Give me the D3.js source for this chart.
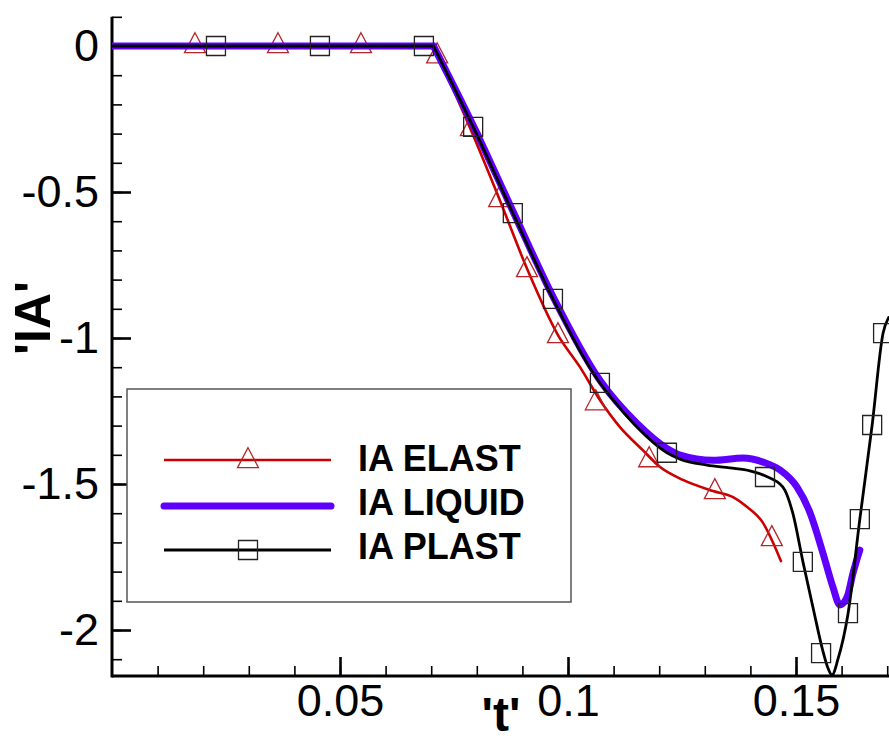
<!DOCTYPE html>
<html><head><meta charset="utf-8">
<script src="https://cdn.jsdelivr.net/npm/d3@7"></script>
<style>
body{margin:0;background:#fff}
svg{display:block}
text{font-family:"Liberation Sans",Arial,Helvetica,sans-serif}
</style>
</head><body>
<svg id="chart" width="889" height="742"></svg>
<script>
// ---------- data ----------
const xMajorTicks = [0.05, 0.1, 0.15];
const xMajorLabels = ["0.05", "0.1", "0.15"];
const yMajorTicks = [0, -0.5, -1, -1.5, -2];
const yMajorLabels = ["0", "-0.5", "-1", "-1.5", "-2"];
const seriesNames = ["IA ELAST", "IA LIQUID", "IA PLAST"];

const elastT = [0, 0.0705, 0.0785, 0.0849, 0.0910, 0.0978, 0.1026, 0.1070, 0.1114, 0.1164, 0.1202, 0.1252, 0.1318, 0.1362, 0.1393, 0.1428, 0.1450, 0.1467];
const elastY = [0, 0, -0.280, -0.522, -0.762, -0.990, -1.099, -1.212, -1.305, -1.384, -1.442, -1.486, -1.524, -1.545, -1.579, -1.634, -1.702, -1.764];
const elastMarkT = [0.0182, 0.0364, 0.0546, 0.0713, 0.0787, 0.0849, 0.0910, 0.0978, 0.1061, 0.1178, 0.1322, 0.1447];
const elastMarkY = [0, 0, 0, -0.035, -0.284, -0.527, -0.767, -0.993, -1.223, -1.418, -1.527, -1.688];

const liquidT = [0, 0.0705, 0.0792, 0.0879, 0.0967, 0.1070, 0.1151, 0.1217, 0.1246, 0.1318, 0.1384, 0.1428, 0.1465, 0.1502, 0.1531, 0.1559, 0.1581, 0.1596, 0.1612, 0.1625, 0.1640];
const liquidY = [0, 0, -0.272, -0.565, -0.858, -1.145, -1.292, -1.378, -1.401, -1.419, -1.411, -1.425, -1.452, -1.510, -1.599, -1.736, -1.853, -1.914, -1.887, -1.805, -1.726];

const plastT = [0, 0.0705, 0.0792, 0.0879, 0.0967, 0.1070, 0.1099, 0.1151, 0.1217, 0.1246, 0.1305, 0.1355, 0.1399, 0.1432, 0.1471, 0.1493, 0.1515, 0.1537, 0.1559, 0.1570, 0.1579, 0.1592, 0.1614, 0.1640, 0.1667, 0.1691, 0.1703];
const plastY = [0, 0, -0.277, -0.572, -0.866, -1.154, -1.212, -1.305, -1.393, -1.415, -1.435, -1.445, -1.455, -1.472, -1.510, -1.600, -1.765, -1.921, -2.072, -2.130, -2.154, -2.100, -1.945, -1.620, -1.298, -0.983, -0.930];
const plastMarkT = [0.0228, 0.0456, 0.0684, 0.0792, 0.0879, 0.0967, 0.1070, 0.1217, 0.1432, 0.1515, 0.1555, 0.1614, 0.1640, 0.1667, 0.1691];
const plastMarkY = [0, 0, 0, -0.277, -0.572, -0.866, -1.154, -1.393, -1.476, -1.767, -2.079, -1.942, -1.620, -1.298, -0.983];

// ---------- setup ----------
const svg = d3.select("#chart");
const x = d3.scaleLinear().domain([0, 0.17]).range([112, 887.2]);
const y = d3.scaleLinear().domain([-2.1575, 0.1]).range([676, 16.8]);

const RED = "#cc0000", MARKRED = "#b5262a", PURPLE = "#5f00ff", BLACK = "#000";

svg.append("defs").append("clipPath").attr("id", "plotclip")
  .append("rect").attr("x", 112).attr("y", 0).attr("width", 889 - 112).attr("height", 676);

// ---------- axes ----------
const xMinor = d3.range(1, 18).map(i => i / 100);
const yMinor = d3.range(-21, 2).map(i => i / 10);

const gxMinor = svg.append("g").attr("transform", "translate(0,676)")
  .call(d3.axisBottom(x).tickValues(xMinor).tickSize(-10).tickSizeOuter(0).tickFormat(""));
gxMinor.select(".domain").remove();
gxMinor.selectAll("line").attr("stroke", "#000").attr("stroke-width", 1.6);

const gyMinor = svg.append("g").attr("transform", "translate(112,0)")
  .call(d3.axisLeft(y).tickValues(yMinor).tickSize(-10).tickSizeOuter(0).tickFormat(""));
gyMinor.select(".domain").remove();
gyMinor.selectAll("line").attr("stroke", "#000").attr("stroke-width", 1.6);

const gx = svg.append("g").attr("transform", "translate(0,676)")
  .call(d3.axisBottom(x).tickValues(xMajorTicks).tickSize(-19).tickSizeOuter(0).tickPadding(8)
    .tickFormat((d, i) => xMajorLabels[i]));
gx.select(".domain").remove();
gx.selectAll("line").attr("stroke", "#000").attr("stroke-width", 2.6);
gx.selectAll("text").attr("font-size", 45).attr("fill", "#000")
  .attr("font-family", "'Liberation Sans', Arial, sans-serif");

const gy = svg.append("g").attr("transform", "translate(112,0)")
  .call(d3.axisLeft(y).tickValues(yMajorTicks).tickSize(-19).tickSizeOuter(0).tickPadding(13)
    .tickFormat((d, i) => yMajorLabels[i]));
gy.select(".domain").remove();
gy.selectAll("line").attr("stroke", "#000").attr("stroke-width", 2.6);
gy.selectAll("text").attr("font-size", 45).attr("fill", "#000")
  .attr("font-family", "'Liberation Sans', Arial, sans-serif");

// axis lines
svg.append("line").attr("x1", 112).attr("x2", 889).attr("y1", 676).attr("y2", 676)
  .attr("stroke", "#000").attr("stroke-width", 3);
svg.append("line").attr("x1", 112).attr("x2", 112).attr("y1", y(0.1)).attr("y2", 677.5)
  .attr("stroke", "#000").attr("stroke-width", 3);

// axis titles
svg.append("text").attr("x", 501).attr("y", 731).attr("text-anchor", "middle")
  .attr("font-size", 48).attr("font-weight", "bold").attr("fill", "#000").text("'t'");
svg.append("text").attr("transform", "translate(50,318) rotate(-90)").attr("text-anchor", "middle")
  .attr("font-size", 50).attr("font-weight", "bold").attr("fill", "#000").text("'IA'");

// ---------- series ----------
const plot = svg.append("g").attr("clip-path", "url(#plotclip)");
const lineLin = d3.line().x(d => x(d[0])).y(d => y(d[1]));
const lineMono = d3.line().x(d => x(d[0])).y(d => y(d[1])).curve(d3.curveMonotoneX);

function seriesPath(T, Y) {
  const pts = T.map((t, i) => [t, Y[i]]);
  const flat = pts.slice(0, 2);
  const rest = pts.slice(1);
  return lineLin(flat) + lineMono(rest);
}

const triPath = "M0,-13.3L10.5,6.7L-10.5,6.7Z";
const sqPath = "M-9.5,-9.5H9.5V9.5H-9.5Z";

// ELAST
plot.append("path").attr("d", seriesPath(elastT, elastY)).attr("fill", "none")
  .attr("stroke", RED).attr("stroke-width", 2.6).attr("stroke-linejoin", "round").attr("stroke-linecap", "round");
plot.selectAll(".tri").data(elastMarkT.map((t, i) => [t, elastMarkY[i]])).enter()
  .append("path").attr("d", triPath)
  .attr("transform", d => `translate(${x(d[0])},${y(d[1])})`)
  .attr("fill", "none").attr("stroke", MARKRED).attr("stroke-width", 1.3);

// LIQUID
plot.append("path").attr("d", seriesPath(liquidT, liquidY)).attr("fill", "none")
  .attr("stroke", PURPLE).attr("stroke-width", 7).attr("stroke-linejoin", "round").attr("stroke-linecap", "round");

// PLAST
plot.append("path").attr("d", seriesPath(plastT, plastY)).attr("fill", "none")
  .attr("stroke", BLACK).attr("stroke-width", 2.8).attr("stroke-linejoin", "round").attr("stroke-linecap", "round");
plot.selectAll(".sq").data(plastMarkT.map((t, i) => [t, plastMarkY[i]])).enter()
  .append("path").attr("d", sqPath)
  .attr("transform", d => `translate(${x(d[0])},${y(d[1])})`)
  .attr("fill", "none").attr("stroke", "#222").attr("stroke-width", 1.3);

// ---------- legend ----------
const lg = svg.append("g");
lg.append("rect").attr("x", 127).attr("y", 389).attr("width", 444).attr("height", 213)
  .attr("fill", "#fff").attr("stroke", "#555").attr("stroke-width", 1.5);
const legendRows = [
  {name: seriesNames[0], color: RED, w: 2.6, marker: triPath, mcol: MARKRED, ly: 460, ty: 471, cap: "butt"},
  {name: seriesNames[1], color: PURPLE, w: 7, marker: null, ly: 506, ty: 515, cap: "round"},
  {name: seriesNames[2], color: BLACK, w: 2.8, marker: sqPath, mcol: "#222", ly: 550, ty: 559, cap: "butt"}
];
legendRows.forEach(r => {
  lg.append("line").attr("x1", 164).attr("x2", 331).attr("y1", r.ly).attr("y2", r.ly)
    .attr("stroke", r.color).attr("stroke-width", r.w).attr("stroke-linecap", r.cap);
  if (r.marker) {
    lg.append("path").attr("d", r.marker)
      .attr("transform", `translate(248,${r.marker === triPath ? r.ly + 1 : r.ly})`)
      .attr("fill", "none").attr("stroke", r.mcol).attr("stroke-width", 1.3);
  }
  lg.append("text").attr("x", 358).attr("y", r.ty).attr("font-size", 36).attr("font-weight", "bold")
    .attr("fill", "#000").text(r.name);
});
</script>
</body></html>
